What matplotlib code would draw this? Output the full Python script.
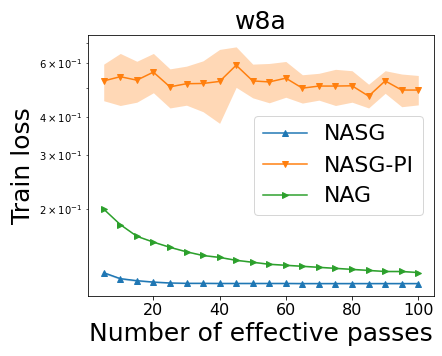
import numpy as np
import matplotlib
matplotlib.use("Agg")
import matplotlib.pyplot as plt

passes = [5, 10, 15, 20, 25, 30, 35, 40, 45, 50, 55, 60, 65, 70, 75, 80, 85, 90, 95, 100]

nasg = [0.1238, 0.1184, 0.1166, 0.1154, 0.1146, 0.1143, 0.1143, 0.1142, 0.1142, 0.1142,
        0.1142, 0.1142, 0.1141, 0.1141, 0.1141, 0.1141, 0.1141, 0.1141, 0.1141, 0.1141]
nasg_lo = [0.1228, 0.1176, 0.1159, 0.1148, 0.1141, 0.1138, 0.1138, 0.1137, 0.1137, 0.1137,
           0.1137, 0.1137, 0.1136, 0.1136, 0.1136, 0.1136, 0.1136, 0.1136, 0.1136, 0.1136]
nasg_hi = [0.1248, 0.1192, 0.1173, 0.1160, 0.1151, 0.1148, 0.1148, 0.1147, 0.1147, 0.1147,
           0.1147, 0.1147, 0.1146, 0.1146, 0.1146, 0.1146, 0.1146, 0.1146, 0.1146, 0.1146]

nasg_pi = [0.526, 0.543, 0.529, 0.562, 0.503, 0.515, 0.516, 0.524, 0.592, 0.526,
           0.522, 0.537, 0.498, 0.506, 0.506, 0.507, 0.469, 0.526, 0.491, 0.491]
nasg_pi_hi = [0.597, 0.647, 0.610, 0.647, 0.576, 0.588, 0.612, 0.667, 0.680, 0.597,
              0.600, 0.609, 0.551, 0.557, 0.574, 0.568, 0.513, 0.568, 0.554, 0.548]
nasg_pi_lo = [0.453, 0.437, 0.448, 0.481, 0.429, 0.438, 0.417, 0.382, 0.501, 0.463,
              0.446, 0.465, 0.445, 0.455, 0.437, 0.448, 0.429, 0.479, 0.433, 0.439]

nag = [0.200, 0.178, 0.163, 0.156, 0.150, 0.145, 0.141, 0.139, 0.136, 0.134,
       0.132, 0.131, 0.130, 0.129, 0.128, 0.127, 0.126, 0.125, 0.125, 0.124]
nag_lo = [v * 0.996 for v in nag]
nag_hi = [v * 1.004 for v in nag]

fig = plt.figure(figsize=(442 / 72, 356 / 72), dpi=72)
ax = fig.add_axes([88 / 442, 60 / 356, (434 - 88) / 442, (296 - 35) / 356])

ax.plot(passes, nasg, marker='^', color='C0', label='NASG')
ax.fill_between(passes, nasg_lo, nasg_hi, color='C0', alpha=0.3, linewidth=0)
ax.plot(passes, nasg_pi, marker='v', color='C1', label='NASG-PI')
ax.fill_between(passes, nasg_pi_lo, nasg_pi_hi, color='C1', alpha=0.3, linewidth=0)
ax.plot(passes, nag, marker='>', color='C2', label='NAG')
ax.fill_between(passes, nag_lo, nag_hi, color='C2', alpha=0.3, linewidth=0)

ax.set_yscale('log')
ax.set_title('w8a', fontsize=25)
ax.set_xlabel('Number of effective passes', fontsize=25)
ax.set_ylabel('Train loss', fontsize=25)
ax.tick_params(axis='x', labelsize=16)
ax.set_xticks([20, 40, 60, 80, 100])
ax.legend(loc='center right', fontsize=22)

fig.savefig('out.png', dpi=72)
